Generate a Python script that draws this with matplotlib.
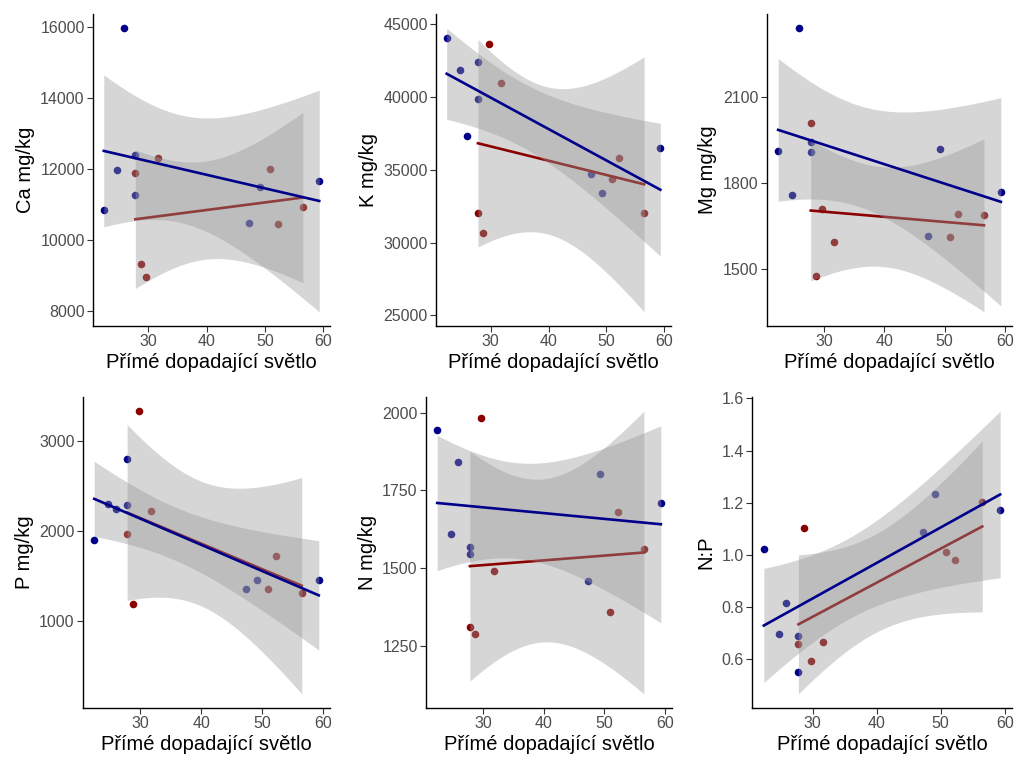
import numpy as np
import matplotlib
matplotlib.use("Agg")
import matplotlib.pyplot as plt

plt.rcParams['font.family'] = ['Liberation Sans', 'DejaVu Sans']

# light (x) for the two groups
x_blue = [22.4, 24.7, 25.9, 27.8, 27.8, 47.3, 49.2, 59.3]
x_red = [27.8, 28.7, 29.7, 31.7, 50.9, 52.2, 56.5]

ca_blue = [10840, 11960, 15960, 12400, 11260, 10480, 11480, 11650]
ca_red = [11880, 9320, 8960, 12300, 12000, 10440, 10940]

k_blue = [44040, 41850, 37360, 42430, 39860, 34700, 33390, 36510]
k_red = [32060, 30660, 43650, 41000, 34400, 35820, 32060]

mg_blue = [1914, 1760, 2341, 1943, 1909, 1616, 1920, 1770]
mg_red = [2010, 1475, 1710, 1596, 1611, 1693, 1688]

p_blue = [1898, 2299, 2250, 2800, 2284, 1352, 1460, 1460]
p_red = [1965, 1185, 3334, 2221, 1352, 1720, 1311]

n_blue = [1943, 1609, 1842, 1569, 1546, 1460, 1802, 1709]
n_red = [1311, 1287, 1983, 1491, 1358, 1679, 1561]

np_blue = [1.024, 0.698, 0.815, 0.689, 0.551, 1.088, 1.235, 1.171]
np_red = [0.660, 1.103, 0.594, 0.668, 1.013, 0.982, 1.204]

ylabels = ["Ca mg/kg", "K mg/kg", "Mg mg/kg", "P mg/kg", "N mg/kg", "N:P"]
xlabel = "Přímé dopadající světlo"
x_ticks = [30, 40, 50, 60]
ca_ticks = [8000, 10000, 12000, 14000, 16000]
k_ticks = [25000, 30000, 35000, 40000, 45000]
mg_ticks = [1500, 1800, 2100]
p_ticks = [1000, 2000, 3000]
n_ticks = [1250, 1500, 1750, 2000]
np_ticks = [0.6, 0.8, 1.0, 1.2, 1.4, 1.6]

T975 = {5: 2.5706, 6: 2.4469}

BLUE = "#00008B"
RED = "#8B0000"

panels = [
    (ca_blue, ca_red, ca_ticks, "{:.0f}"),
    (k_blue, k_red, k_ticks, "{:.0f}"),
    (mg_blue, mg_red, mg_ticks, "{:.0f}"),
    (p_blue, p_red, p_ticks, "{:.0f}"),
    (n_blue, n_red, n_ticks, "{:.0f}"),
    (np_blue, np_red, np_ticks, "{:.1f}"),
]

W, H = 1020, 760
boxes = [
    (93, 330, 14, 326),
    (436, 671, 14, 326),
    (767, 1012, 14, 326),
    (83, 330, 397, 708),
    (426, 672, 397, 708),
    (752, 1012, 397, 708),
]

fig = plt.figure(figsize=(10.2, 7.6), dpi=100)


def lm_band(x, y):
    x = np.asarray(x, float)
    y = np.asarray(y, float)
    n = len(x)
    b, a = np.polyfit(x, y, 1)
    xs = np.linspace(x.min(), x.max(), 80)
    fit = a + b * xs
    resid = y - (a + b * x)
    s = np.sqrt(np.sum(resid ** 2) / (n - 2))
    sxx = np.sum((x - x.mean()) ** 2)
    se = s * np.sqrt(1.0 / n + (xs - x.mean()) ** 2 / sxx)
    t = T975[n - 2]
    return xs, fit, fit - t * se, fit + t * se


for i, (yb, yr, yt, fmt) in enumerate(panels):
    l, r, t, b = boxes[i]
    ax = fig.add_axes([l / W, 1 - b / H, (r - l) / W, (b - t) / H])
    ax.scatter(x_blue, yb, s=30, color=BLUE, zorder=1, linewidths=0)
    ax.scatter(x_red, yr, s=30, color=RED, zorder=1, linewidths=0)
    for xx, yy, col, z in [(x_red, yr, RED, 2), (x_blue, yb, BLUE, 4)]:
        xs, fit, lo, hi = lm_band(xx, yy)
        ax.fill_between(xs, lo, hi, color="#999999", alpha=0.4, linewidth=0, zorder=z)
        ax.plot(xs, fit, color=col, lw=1.9, zorder=z + 0.5)
    ax.margins(x=0.05, y=0.05)
    ax.set_xticks(x_ticks)
    ax.set_yticks(yt)
    ax.set_yticklabels([fmt.format(v) for v in yt])
    for sp in ["top", "right"]:
        ax.spines[sp].set_visible(False)
    for sp in ["left", "bottom"]:
        ax.spines[sp].set_linewidth(1.0)
        ax.spines[sp].set_color("black")
    ax.tick_params(axis="both", colors="#333333", labelcolor="#4D4D4D",
                   labelsize=11.5, length=4, width=0.8, pad=2)
    ax.set_xlabel(xlabel, fontsize=14.5, color="black", labelpad=3)
    ax.set_ylabel(ylabels[i], fontsize=14.5, color="black", labelpad=4)

fig.savefig("out.png", dpi=100, facecolor="white")
